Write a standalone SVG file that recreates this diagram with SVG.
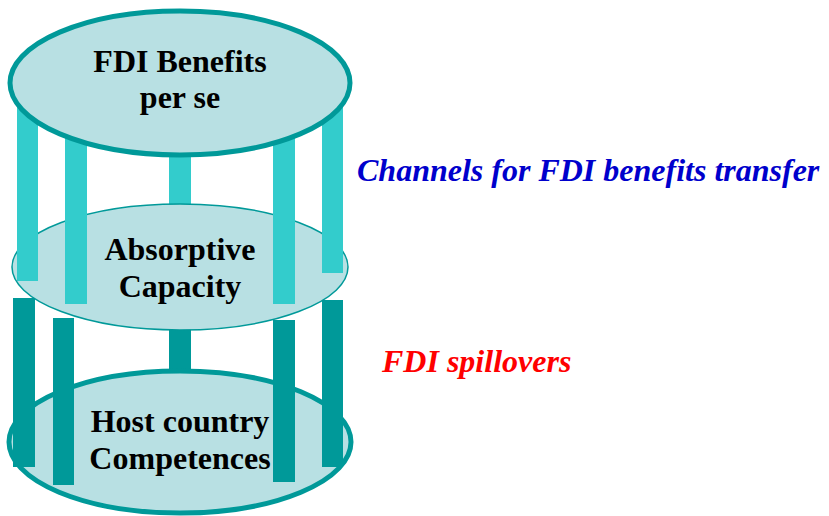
<svg xmlns="http://www.w3.org/2000/svg" width="829" height="516" viewBox="0 0 829 516">
<style>
.disk{fill:#b8e0e3;stroke:#009999}
.thick{stroke-width:5}
.thin{stroke-width:1.5}
.lbl{font-family:"Liberation Serif","Times New Roman",serif;font-weight:bold;font-size:32px;fill:#000;text-anchor:middle}
.side{font-family:"Liberation Serif","Times New Roman",serif;font-weight:bold;font-style:italic;font-size:32px}
.up{fill:#33cccc}
.low{fill:#009999}
</style>
<rect width="829" height="516" fill="#fff"/>
<g id="connectors-lower" class="connectors">
<rect class="low" x="169" y="300" width="22" height="70"/>
</g>
<g id="host">
<ellipse class="disk thick" cx="180" cy="442" rx="171" ry="71"/>
<text class="lbl" x="180" y="432">Host country</text>
<text class="lbl" x="180" y="469">Competences</text>
</g>
<g id="connectors-lower-front" class="connectors">
<rect class="low" x="13" y="298" width="22" height="169"/>
<rect class="low" x="53" y="318" width="21" height="167"/>
<rect class="low" x="273" y="320" width="22" height="162"/>
<rect class="low" x="322" y="300" width="21" height="167"/>
<rect class="up" x="169" y="150" width="22" height="70"/>
</g>
<g id="absorptive">
<ellipse class="disk thin" cx="180" cy="267" rx="168" ry="63"/>
<text class="lbl" x="180" y="260">Absorptive</text>
<text class="lbl" x="180" y="297">Capacity</text>
</g>
<g id="connectors-upper" class="connectors">
<rect class="up" x="17" y="83" width="21" height="198"/>
<rect class="up" x="65" y="83" width="22" height="221"/>
<rect class="up" x="273" y="83" width="22" height="221"/>
<rect class="up" x="322" y="83" width="21" height="190"/>
</g>
<g id="benefits">
<ellipse class="disk thick" cx="180" cy="83" rx="170" ry="72"/>
<text class="lbl" x="180" y="72">FDI Benefits</text>
<text class="lbl" x="180" y="108">per se</text>
</g>
<g id="labels">
<text class="side" x="357" y="181" fill="#0000cc">Channels for FDI benefits transfer</text>
<text class="side" x="382" y="372" fill="#ff0000">FDI spillovers</text>
</g>
</svg>
